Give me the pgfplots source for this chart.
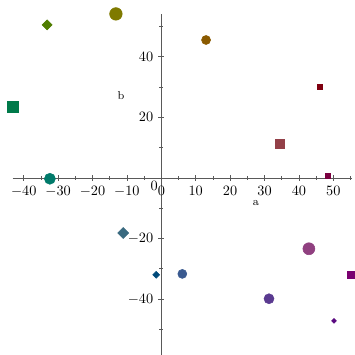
\documentclass[border=0pt]{standalone}
\usepackage{pgfplots}
\pgfplotsset{compat=1.18}
\definecolor{c1}{RGB}{127,122,0}
\definecolor{c2}{RGB}{138,90,0}
\definecolor{c3}{RGB}{0,122,106}
\definecolor{c4}{RGB}{58,90,144}
\definecolor{c5}{RGB}{90,58,144}
\definecolor{c6}{RGB}{144,64,128}
\definecolor{c7}{RGB}{127,0,16}
\definecolor{c8}{RGB}{147,64,72}
\definecolor{c9}{RGB}{122,0,64}
\definecolor{c10}{RGB}{0,122,74}
\definecolor{c11}{RGB}{122,0,112}
\definecolor{c12}{RGB}{79,125,0}
\definecolor{c13}{RGB}{58,106,128}
\definecolor{c14}{RGB}{0,74,122}
\definecolor{c15}{RGB}{90,10,128}
\begin{document}
\begin{tikzpicture}
\begin{axis}[
  x=2.408pt, y=2.121pt,
  axis lines=middle,
  axis line style={-, draw=black!65},
  every tick/.style={black!65},
  xmin=-43.2, xmax=55.3, ymin=-58.4, ymax=54.1,
  xtick={-40,-30,...,50},
  minor xtick={-35,-25,...,55},
  extra x ticks={0},
  extra x tick style={tick label style={xshift=-5pt, yshift=1pt}, major tick length=0pt},
  hide obscured x ticks=false,
  ytick={-40,-20,20,40},
  minor ytick={-50,-30,...,50},
  tick label style={font=\normalsize},
  xlabel={a}, ylabel={b},
  xlabel style={at={(axis cs:27.5,-8.3)}, anchor=center, font=\footnotesize},
  ylabel style={at={(axis cs:-11.7,27)}, anchor=center, font=\footnotesize, rotate=0},
  clip=false,
  every axis plot/.append style={only marks},
]
% circles
\addplot[mark=*, mark size=4.4pt, color=c1] coordinates {(-13.2,54.1)};
\addplot[mark=*, mark size=3.15pt, color=c2] coordinates {(13.0,45.5)};
\addplot[mark=*, mark size=3.85pt, color=c3] coordinates {(-32.4,-0.3)};
\addplot[mark=*, mark size=3.15pt, color=c4] coordinates {(6.1,-31.7)};
\addplot[mark=*, mark size=3.5pt, color=c5] coordinates {(31.3,-39.9)};
\addplot[mark=*, mark size=4.2pt, color=c6] coordinates {(42.9,-23.4)};
% squares
\addplot[mark=square*, mark size=1.75pt, color=c7] coordinates {(46.1,30.0)};
\addplot[mark=square*, mark size=3.15pt, color=c8] coordinates {(34.4,11.2)};
\addplot[mark=square*, mark size=1.75pt, color=c9] coordinates {(48.4,0.7)};
\addplot[mark=square*, mark size=3.85pt, color=c10] coordinates {(-43.1,23.4)};
\addplot[mark=square*, mark size=2.45pt, color=c11] coordinates {(55.1,-32.0)};
% diamonds
\addplot[mark=square*, mark options={rotate=45}, mark size=2.5pt, color=c12] coordinates {(-33.2,50.5)};
\addplot[mark=square*, mark options={rotate=45}, mark size=2.7pt, color=c13] coordinates {(-11.1,-18.2)};
\addplot[mark=square*, mark options={rotate=45}, mark size=1.7pt, color=c14] coordinates {(-1.5,-32.0)};
\addplot[mark=square*, mark options={rotate=45}, mark size=1.2pt, color=c15] coordinates {(50.2,-47.2)};
\coordinate (bbll) at (axis cs:-46.9,-58.4);
\coordinate (bbur) at (axis cs:56.3,58.7);
\end{axis}
\pgfresetboundingbox
\path (bbll) rectangle (bbur);
\end{tikzpicture}
\end{document}
